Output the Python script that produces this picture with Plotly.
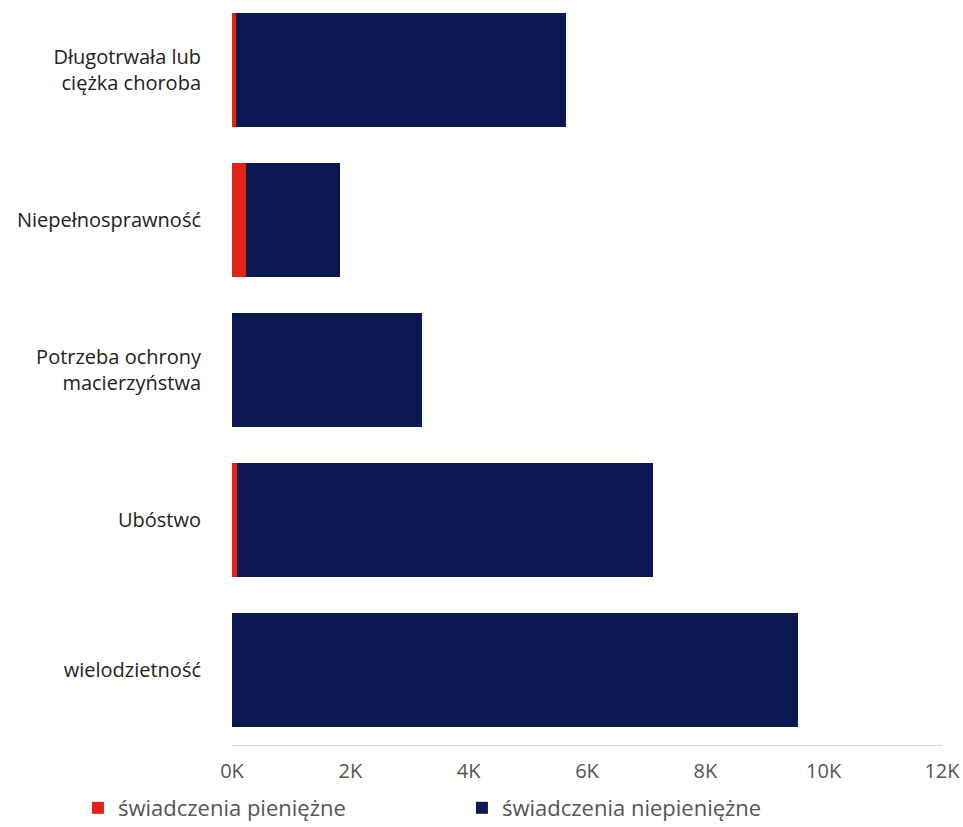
import plotly.graph_objects as go

categories = ["Długotrwała lub<br>ciężka choroba", "Niepełnosprawność",
              "Potrzeba ochrony<br>macierzyństwa", "Ubóstwo", "wielodzietność"]
pieniezne = [70, 230, 0, 80, 0]
niepieniezne = [5575, 1595, 3210, 7035, 9565]
tick_vals = [0, 2000, 4000, 6000, 8000, 10000, 12000]
tick_text = ["0K", "2K", "4K", "6K", "8K", "10K", "12K"]

fig = go.Figure()
fig.add_trace(go.Bar(y=categories, x=pieniezne, orientation="h",
                     name="świadczenia pieniężne", marker_color="#e2231a",
                     marker_line_width=0))
fig.add_trace(go.Bar(y=categories, x=niepieniezne, orientation="h",
                     name="świadczenia niepieniężne", marker_color="#0c1852",
                     marker_line_width=0))

fig.update_layout(
    barmode="stack", bargap=0.24,
    width=963, height=827,
    margin=dict(l=232, r=21, t=0, b=82, autoexpand=False),
    paper_bgcolor="white", plot_bgcolor="white",
    font=dict(family="Open Sans, sans-serif", size=20, color="#222"),
    showlegend=True,
    legend=dict(orientation="h", x=-0.217, xanchor="left", y=-0.0846, yanchor="middle",
                entrywidth=339, entrywidthmode="pixels", itemwidth=30,
                font=dict(size=22, color="#555"), traceorder="normal"),
    xaxis=dict(range=[0, 12000], tickvals=tick_vals, ticktext=tick_text,
               showgrid=False, zeroline=False, showline=True, linecolor="#d0d4dc",
               linewidth=1, tickfont=dict(size=20, color="#555"), ticks="", ticklabelstandoff=8),
    yaxis=dict(categoryorder="array", categoryarray=categories[::-1],
               range=[-0.5, 4.4667],
               showgrid=False, zeroline=False, showline=False, ticks="",
               ticklabelstandoff=30, tickfont=dict(size=20, color="#222")),
)

fig.write_html("out.html", config={"displayModeBar": False},
               post_script="document.body.style.margin='0';document.body.style.overflow='hidden';")
